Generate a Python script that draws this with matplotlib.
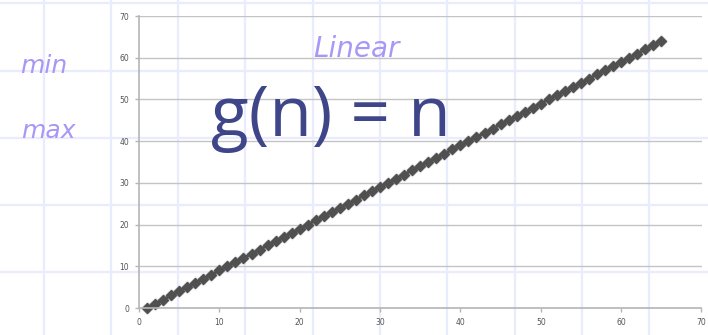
import matplotlib.pyplot as plt

# n values and g(n) = n - 1 offset as plotted
n_vals = [1, 2, 3, 4, 5, 6, 7, 8, 9, 10, 11, 12, 13, 14, 15, 16, 17, 18, 19, 20,
          21, 22, 23, 24, 25, 26, 27, 28, 29, 30, 31, 32, 33, 34, 35, 36, 37, 38, 39, 40,
          41, 42, 43, 44, 45, 46, 47, 48, 49, 50, 51, 52, 53, 54, 55, 56, 57, 58, 59, 60,
          61, 62, 63, 64, 65]
g_vals = [0, 1, 2, 3, 4, 5, 6, 7, 8, 9, 10, 11, 12, 13, 14, 15, 16, 17, 18, 19,
          20, 21, 22, 23, 24, 25, 26, 27, 28, 29, 30, 31, 32, 33, 34, 35, 36, 37, 38, 39,
          40, 41, 42, 43, 44, 45, 46, 47, 48, 49, 50, 51, 52, 53, 54, 55, 56, 57, 58, 59,
          60, 61, 62, 63, 64]
x_ticks = [0, 10, 20, 30, 40, 50, 60, 70]
y_ticks = [0, 10, 20, 30, 40, 50, 60, 70]

W, H = 708, 335
fig = plt.figure(figsize=(W / 100, H / 100), dpi=100)

# notebook paper grid behind everything
bg = fig.add_axes([0, 0, 1, 1], zorder=0)
bg.set_xlim(0, W)
bg.set_ylim(H, 0)
bg.axis('off')
paper_blue = '#e8ecfc'
for gx in [43.5, 110.5, 178, 245, 312.5, 380, 447, 514.5, 582, 649]:
    bg.axvline(gx, color=paper_blue, lw=1.6)
for gy in [3, 70.5, 137.5, 205, 272]:
    bg.axhline(gy, color=paper_blue, lw=1.6)

# chart area
ax = fig.add_axes([139 / W, (H - 308) / H, (701.5 - 139) / W, (308 - 16) / H], zorder=1)
ax.patch.set_alpha(0)
ax.set_xlim(0, 70)
ax.set_ylim(0, 70)
ax.set_xticks(x_ticks)
ax.set_yticks(y_ticks)
ax.yaxis.grid(True, color='#c4c4c4', lw=1)
ax.set_axisbelow(True)
for side in ['top', 'right']:
    ax.spines[side].set_visible(False)
for side in ['left', 'bottom']:
    ax.spines[side].set_color('#b5b5b5')
    ax.spines[side].set_linewidth(1.2)
ax.tick_params(axis='both', colors='#b5b5b5', labelcolor='#555555',
               labelsize=5.5, length=3, width=1, pad=4)

# soft halo under the markers
ax.plot(n_vals, g_vals, color='#aaaaaa', lw=4, marker='D', ms=7.5,
        mec='none', mfc='#aaaaaa', alpha=0.35, clip_on=False)
ax.plot(n_vals, g_vals, color='#505050', lw=2, marker='D', ms=5,
        mec='#505050', mfc='#505050', clip_on=False)

# annotations
fig.text(331 / W, 1 - 136 / H, 'g(n) = n', fontsize=50, color='#3f4589',
         ha='center', va='baseline', family='Open Sans')
hand = '#a897f6'
fig.text(356 / W, 1 - 49 / H, 'Linear', fontsize=20, color=hand,
         ha='center', va='center', family='DejaVu Sans', style='italic')
fig.text(44 / W, 1 - 66 / H, 'min', fontsize=18, color=hand,
         ha='center', va='center', family='DejaVu Sans', style='italic')
fig.text(48 / W, 1 - 131 / H, 'max', fontsize=18, color=hand,
         ha='center', va='center', family='DejaVu Sans', style='italic')

fig.savefig('out.png', dpi=100)
